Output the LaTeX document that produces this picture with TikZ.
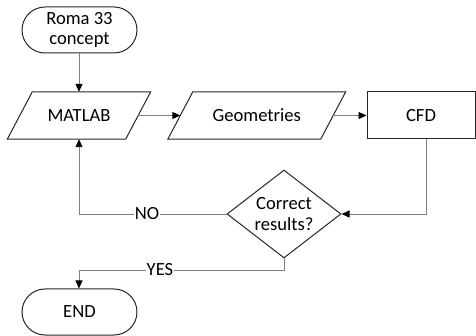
\documentclass[tikz,border=0pt]{standalone}
\usepackage{fontspec}
\setmainfont{Carlito}
\usetikzlibrary{shapes.geometric,arrows.meta}
\definecolor{conn}{gray}{0.5}
\definecolor{edge}{gray}{0.15}
\tikzset{
  txt/.style={font=\fontsize{18.6}{20.5}\selectfont, align=center, inner sep=0pt},
  term/.style={txt, draw=edge, line width=1pt, rounded corners=23pt, minimum width=115pt, minimum height=46pt},
  boxnode/.style={txt, draw=edge, line width=1pt, minimum width=108pt, minimum height=47pt},
  paranode/.style={txt, minimum height=47pt},
  paraline/.style={draw=edge, line width=1pt, line join=miter},
  decision/.style={txt, draw=edge, line width=1pt, shape=diamond, aspect=1.3, minimum width=114pt, minimum height=88pt},
  conline/.style={draw=conn, line width=0.9pt, -{Triangle[length=8pt,width=7pt,color=black]}},
  lbl/.style={font=\fontsize{18.6}{20.5}\selectfont, fill=white, inner sep=1pt}
}
\begin{document}
\begin{tikzpicture}[x=1pt,y=-1pt]
\useasboundingbox (0,0) rectangle (476,336);
% nodes
\node[term] (roma) at (79.5,30) {Roma 33\\concept};
\node[paranode, minimum width=118pt] (matlab) at (79,115.5) {MATLAB};
\draw[paraline] ([xshift=-12.5pt]matlab.south west) -- ([xshift=-12.5pt]matlab.south east) -- ([xshift=12.5pt]matlab.north east) -- ([xshift=12.5pt]matlab.north west) -- cycle;
\node[paranode, minimum width=152.5pt] (geo) at (256.75,115.5) {Geometries};
\draw[paraline] ([xshift=-12.5pt]geo.south west) -- ([xshift=-12.5pt]geo.south east) -- ([xshift=12.5pt]geo.north east) -- ([xshift=12.5pt]geo.north west) -- cycle;
\node[boxnode] (cfd) at (421,115.5) {CFD};
\node[decision] (dec) at (284,214) {Correct\\results?};
\node[term] (end) at (79.5,312) {END};
% helper coordinates
\coordinate (cfdout) at (426,139);
\coordinate (c1) at (426,214);
\coordinate (c2) at (79,214);
\coordinate (c3) at (284,270);
\coordinate (c4) at (79,270);
% connectors
\draw[conline] (roma.south -| matlab.north) -- (matlab.north);
\draw[conline] (matlab.east) -- (geo.west);
\draw[conline] (geo.east) -- (cfd.west);
\draw[conline] (cfdout) -- (c1) -- (dec.east);
\draw[conline] (dec.west) -- (c2) -- (matlab.south);
\draw[conline] (dec.south) -- (c3) -- (c4) -- (c4 |- end.north);
% labels
\node[lbl] (no) at (147,214) {NO};
\node[lbl] (yes) at (160,270) {YES};
\end{tikzpicture}
\end{document}
